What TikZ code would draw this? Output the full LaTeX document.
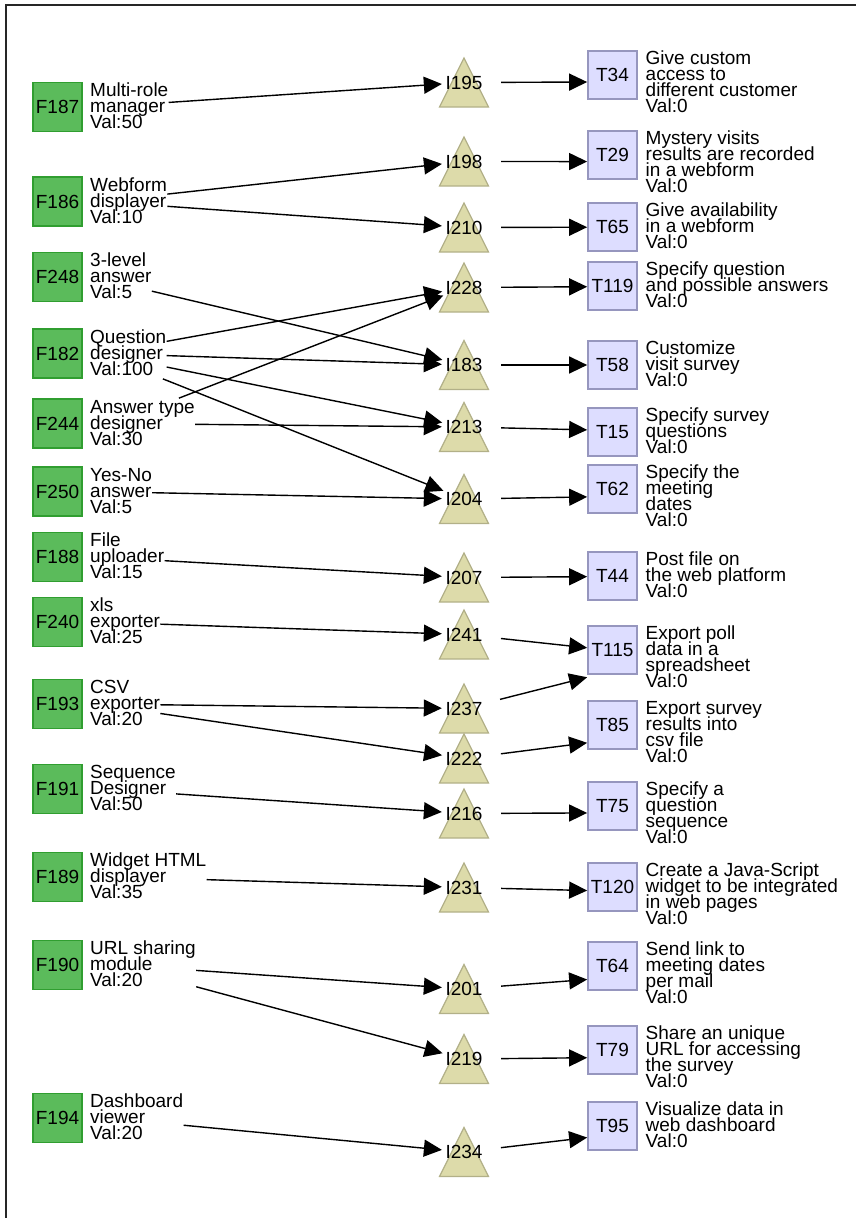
\documentclass[tikz,border=0pt]{standalone}
\usepackage{fontspec}
\setmainfont{Liberation Sans}
\usetikzlibrary{arrows.meta,fit}

\definecolor{featfill}{RGB}{91,187,91}
\definecolor{featdraw}{RGB}{48,158,48}
\definecolor{taskfill}{RGB}{221,221,255}
\definecolor{taskdraw}{RGB}{150,150,190}
\definecolor{trifill}{RGB}{221,219,170}
\definecolor{tridraw}{RGB}{178,176,136}

% left-aligned lines, tight 16pt spacing, baseline on the first line
\newcommand\mltext[1]{\vtop{\baselineskip=16pt\lineskiplimit=-50pt\lineskip=0pt
  \halign{##\hfil\cr#1\crcr}}}

\tikzset{
  lbl/.style={font=\fontsize{19}{16}\selectfont, inner sep=0pt},
  fbox/.style={lbl, draw=featdraw, fill=featfill, line width=1.3pt,
    minimum width=49pt, minimum height=49pt},
  tbox/.style={lbl, draw=taskdraw, fill=taskfill, line width=1.3pt,
    minimum width=49pt, minimum height=48pt},
  txt/.style={lbl, anchor=base west},
  grp/.style={inner sep=0pt},
  tri/.style={draw=tridraw, fill=trifill, line width=1.2pt},
  ilabel/.style={lbl, circle, minimum size=44pt},
  iout/.style={circle, inner sep=0pt, minimum size=74pt},
  edge/.style={line width=1.4pt, -{Triangle[length=18pt,width=17pt]}},
}

% feature: name, centre y, id, description
\newcommand\fnode[4]{%
  \node[fbox] (#1) at (57.5,#2) {#3};
  \node[txt] (#1t) at (90,#2-10.5) {\mltext{#4}};
  \node[grp, fit=(#1)(#1t)] (#1g) {};
}
% task: name, top y, id, description
\newcommand\tnode[4]{%
  \node[tbox] (#1) at (612.5,#2+24) {#3};
  \node[txt] (#1t) at (645.5,#2+13.5) {\mltext{#4}};
  \node[grp, fit=(#1)(#1t)] (#1g) {};
}
% interaction: name, centre y, id
\newcommand\inode[3]{%
  \draw[tri] (464,#2-24.5) -- (488.5,#2+24.5) -- (439.5,#2+24.5) -- cycle;
  \node[ilabel] (#1) at (464,#2) {#3};
  \node[iout] (#1o) at (464,#2) {};
}

\begin{document}
\begin{tikzpicture}[x=1pt,y=-1pt]
\useasboundingbox (0,0) rectangle (856,1218);
\draw[line width=1.3pt, black!85] (6,1218) -- (6,5) -- (856,5);

% features
\fnode{f187}{107}{F187}{Multi-role\cr manager\cr Val:50}
\fnode{f186}{201.5}{F186}{Webform\cr displayer\cr Val:10}
\fnode{f248}{277}{F248}{3-level\cr answer\cr Val:5}
\fnode{f182}{353.5}{F182}{Question\cr designer\cr Val:100}
\fnode{f244}{423.5}{F244}{Answer type\cr designer\cr Val:30}
\fnode{f250}{491.5}{F250}{Yes-No\cr answer\cr Val:5}
\fnode{f188}{557}{F188}{File\cr uploader\cr Val:15}
\fnode{f240}{622}{F240}{xls\cr exporter\cr Val:25}
\fnode{f193}{704}{F193}{CSV\cr exporter\cr Val:20}
\fnode{f191}{789}{F191}{Sequence\cr Designer\cr Val:50}
\fnode{f189}{877}{F189}{Widget HTML\cr displayer\cr Val:35}
\fnode{f190}{964.7}{F190}{URL sharing\cr module\cr Val:20}
\fnode{f194}{1118}{F194}{Dashboard\cr viewer\cr Val:20}

% interactions
\inode{i195}{82.5}{I195}
\inode{i198}{161.5}{I198}
\inode{i210}{227.5}{I210}
\inode{i228}{287.5}{I228}
\inode{i183}{365}{I183}
\inode{i213}{427}{I213}
\inode{i204}{499}{I204}
\inode{i207}{577.5}{I207}
\inode{i241}{634.5}{I241}
\inode{i237}{708.5}{I237}
\inode{i222}{758.5}{I222}
\inode{i216}{813.5}{I216}
\inode{i231}{887.5}{I231}
\inode{i201}{989}{I201}
\inode{i219}{1059}{I219}
\inode{i234}{1152}{I234}

% tasks
\tnode{t34}{51}{T34}{Give custom\cr access to\cr different customer\cr Val:0}
\tnode{t29}{131}{T29}{Mystery visits\cr results are recorded\cr in a webform\cr Val:0}
\tnode{t65}{203}{T65}{Give availability\cr in a webform\cr Val:0}
\tnode{t119}{262}{T119}{Specify question\cr and possible answers\cr Val:0}
\tnode{t58}{341}{T58}{Customize\cr visit survey\cr Val:0}
\tnode{t15}{408}{T15}{Specify survey\cr questions\cr Val:0}
\tnode{t62}{465}{T62}{Specify the\cr meeting\cr dates\cr Val:0}
\tnode{t44}{552}{T44}{Post file on\cr the web platform\cr Val:0}
\tnode{t115}{626}{T115}{Export poll\cr data in a\cr spreadsheet\cr Val:0}
\tnode{t85}{701}{T85}{Export survey\cr results into\cr csv file\cr Val:0}
\tnode{t75}{782}{T75}{Specify a\cr question\cr sequence\cr Val:0}
\tnode{t120}{863}{T120}{Create a Java-Script\cr widget to be integrated\cr in web pages\cr Val:0}
\tnode{t64}{942}{T64}{Send link to\cr meeting dates\cr per mail\cr Val:0}
\tnode{t79}{1026}{T79}{Share an unique\cr URL for accessing\cr the survey\cr Val:0}
\tnode{t95}{1102}{T95}{Visualize data in\cr web dashboard\cr Val:0}

% feature -> interaction
\foreach \p/\q in {f187g/i195, f186g/i198, f186g/i210, f248g/i183,
    f182g/i228, f182g/i183, f182g/i213, f182g/i204, f244g/i228, f244g/i213,
    f250g/i204, f188g/i207, f240g/i241, f193g/i237, f193g/i222, f191g/i216,
    f189g/i231, f190g/i201, f190g/i219, f194g/i234}
  \draw[edge] (\p) -- (\q);

% interaction -> task
\foreach \p/\q in {i195o/t34g, i198o/t29g, i210o/t65g, i228o/t119g,
    i183o/t58g, i213o/t15g, i204o/t62g, i207o/t44g, i241o/t115g, i237o/t115g,
    i222o/t85g, i216o/t75g, i231o/t120g, i201o/t64g, i219o/t79g, i234o/t95g}
  \draw[edge] (\p) -- (\q);
\end{tikzpicture}
\end{document}
